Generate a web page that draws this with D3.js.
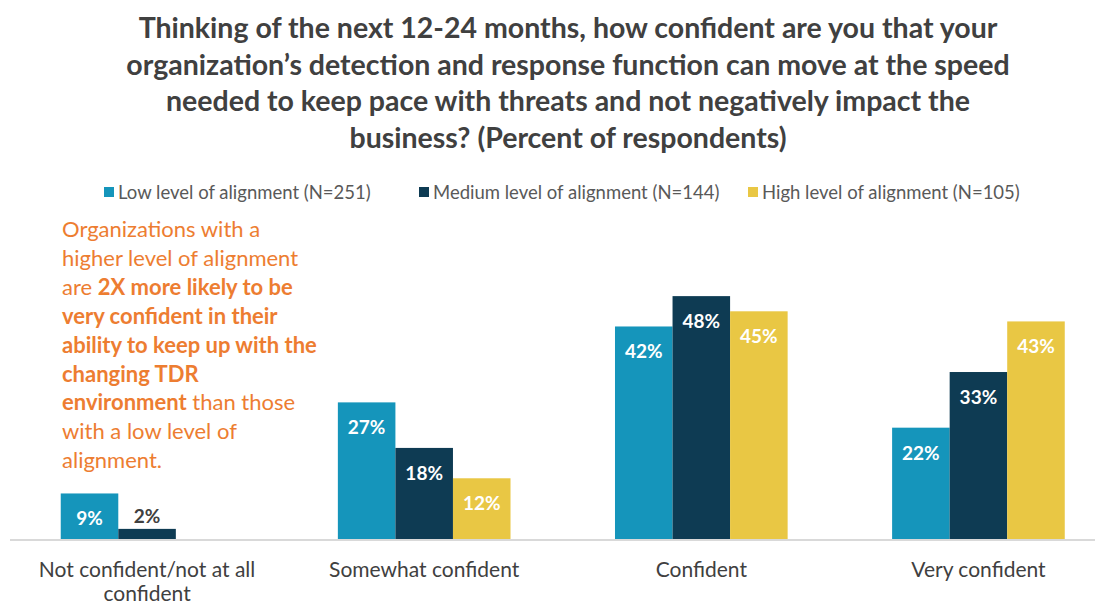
<!DOCTYPE html>
<html>
<head>
<meta charset="utf-8">
<script src="https://cdn.jsdelivr.net/npm/d3@7"></script>
<style>
  body { margin: 0; background: #fff; }
  svg { font-family: Lato, "Open Sans", sans-serif; }
</style>
</head>
<body>
<script>
// chart data
var categories = [["Not confident/not at all", "confident"], ["Somewhat confident"], ["Confident"], ["Very confident"]];
var seriesNames = ["Low level of alignment (N=251)", "Medium level of alignment (N=144)", "High level of alignment (N=105)"];
var lowValues = [9, 27, 42, 22];
var mediumValues = [2, 18, 48, 33];
var highValues = [null, 12, 45, 43];
var colors = ["#1595bb", "#0e3b53", "#e9c744"];

var titleLines = [
    "Thinking of the next 12-24 months, how confident are you that your",
    "organization\u2019s detection and response function can move at the speed",
    "needed to keep pace with threats and not negatively impact the",
    "business? (Percent of respondents)"
];

// annotation: [text, bold]
var noteLines = [
    [["Organizations with a", false]],
    [["higher level of alignment", false]],
    [["are ", false], ["2X more likely to be", true]],
    [["very confident in their", true]],
    [["ability to keep up with the", true]],
    [["changing TDR", true]],
    [["environment", true], [" than those", false]],
    [["with a low level of", false]],
    [["alignment.", false]]
];

var width = 1103,
    height = 606;

var svg = d3.select("body")
    .append("svg")
    .attr("width", width)
    .attr("height", height);

//title
svg.append("g").selectAll("text")
    .data(titleLines)
    .enter()
    .append("text")
    .attr("x", 568)
    .attr("y", function(d, i) { return 38 + i * 36.7; })
    .attr("text-anchor", "middle")
    .attr("font-size", 28.5)
    .attr("font-weight", "bold")
    .attr("fill", "#404040")
    .text(function(d) { return d; });

//legend
var legendX = [104, 419, 748];
var legend = svg.append("g").selectAll("g")
    .data(seriesNames)
    .enter()
    .append("g")
    .attr("transform", function(d, i) { return "translate(" + legendX[i] + ",192)"; });

legend.append("rect")
    .attr("x", 0)
    .attr("y", -5)
    .attr("width", 10)
    .attr("height", 10)
    .attr("fill", function(d, i) { return colors[i]; });

legend.append("text")
    .attr("x", 14)
    .attr("y", 6.5)
    .attr("font-size", 18.5)
    .attr("fill", "#595959")
    .text(function(d) { return d; });

//scales
var x0 = d3.scaleBand()
    .domain(d3.range(categories.length))
    .range([8.5, 1117])
    .paddingInner(0.377)
    .paddingOuter(0.1885);

var x1 = d3.scaleBand()
    .domain(d3.range(seriesNames.length))
    .range([0, x0.bandwidth()]);

var y = d3.scaleLinear()
    .domain([0, 50])
    .range([539, 286]);

var allSeries = [lowValues, mediumValues, highValues];

var groups = svg.append("g").selectAll("g")
    .data(categories)
    .enter()
    .append("g")
    .attr("transform", function(d, i) { return "translate(" + x0(i) + ",0)"; });

var bars = groups.selectAll("g")
    .data(function(d, i) {
        return allSeries.map(function(s, j) { return { s: j, v: s[i] }; })
            .filter(function(e) { return e.v != null; });
    })
    .enter()
    .append("g");

bars.append("rect")
    .attr("x", function(d) { return x1(d.s); })
    .attr("y", function(d) { return y(d.v); })
    .attr("width", x1.bandwidth())
    .attr("height", function(d) { return y(0) - y(d.v); })
    .attr("fill", function(d) { return colors[d.s]; });

bars.append("text")
    .attr("x", function(d) { return x1(d.s) + x1.bandwidth() / 2; })
    .attr("y", function(d) { return d.v >= 5 ? y(d.v) + 32 : y(d.v) - 6; })
    .attr("text-anchor", "middle")
    .attr("font-size", 19)
    .attr("font-weight", "bold")
    .attr("fill", function(d) { return d.v >= 5 ? "#fff" : "#404040"; })
    .text(function(d) { return d.v + "%"; });

//axis line
svg.append("line")
    .attr("x1", 10)
    .attr("x2", 1095)
    .attr("y1", y(0) + 1)
    .attr("y2", y(0) + 1)
    .attr("stroke", "#d9d9d9")
    .attr("stroke-width", 2);

//category labels
var catLabels = svg.append("g").selectAll("text")
    .data(categories)
    .enter()
    .append("text")
    .attr("text-anchor", "middle")
    .attr("font-size", 21)
    .attr("fill", "#404040")
    .attr("transform", function(d, i) { return "translate(" + (x0(i) + x0.bandwidth() / 2) + ",577)"; });

catLabels.selectAll("tspan")
    .data(function(d) { return d; })
    .enter()
    .append("tspan")
    .attr("x", 0)
    .attr("dy", function(d, i) { return i === 0 ? 0 : 24; })
    .text(function(d) { return d; });

//annotation
var note = svg.append("g").selectAll("text")
    .data(noteLines)
    .enter()
    .append("text")
    .attr("x", 62)
    .attr("y", function(d, i) { return 237 + i * 28.9; })
    .attr("font-size", 22)
    .attr("fill", "#ed7d31");

note.selectAll("tspan")
    .data(function(d) { return d; })
    .enter()
    .append("tspan")
    .attr("font-weight", function(d) { return d[1] ? "bold" : "normal"; })
    .text(function(d) { return d[0]; });
</script>
</body>
</html>
